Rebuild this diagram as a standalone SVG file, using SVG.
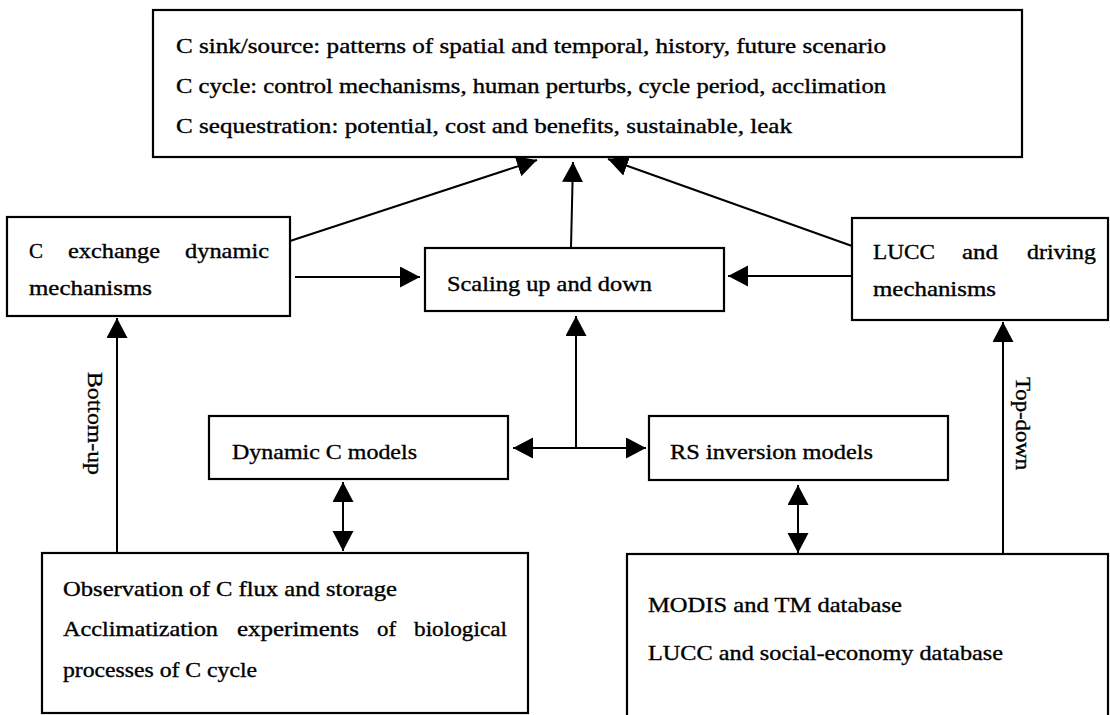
<svg xmlns="http://www.w3.org/2000/svg" width="1110" height="715" viewBox="0 0 1110 715" font-family="'Liberation Serif', 'DejaVu Serif', 'Times New Roman', serif">
<style>
.box{fill:#fff;stroke:#000;stroke-width:2.2}
.t{font-family:'Liberation Serif','DejaVu Serif','Times New Roman',serif;font-size:21px;fill:#000;stroke:#000;stroke-width:0.35}
.c{fill:none;stroke:#000;stroke-width:2}
</style>
<defs>
<marker id="ah" markerUnits="userSpaceOnUse" markerWidth="22" markerHeight="22" refX="20" refY="10.5" orient="auto-start-reverse" viewBox="0 0 22 22">
<path d="M0,0 L20,10.5 L0,21 Z" fill="#000"/>
</marker>
</defs>
<rect width="1110" height="715" fill="#fff"/>

<g id="connectors">
<line class="c" x1="290" y1="241" x2="537" y2="160" marker-end="url(#ah)"/>
<line class="c" x1="571" y1="247" x2="573" y2="162" marker-end="url(#ah)"/>
<line class="c" x1="852" y1="246" x2="608" y2="159" marker-end="url(#ah)"/>
<line class="c" x1="295" y1="277" x2="420" y2="277" marker-end="url(#ah)"/>
<line class="c" x1="852" y1="276" x2="728" y2="276" marker-end="url(#ah)"/>
<line class="c" x1="576" y1="447" x2="576" y2="316" marker-end="url(#ah)"/>
<line class="c" x1="513" y1="448" x2="646" y2="448" marker-start="url(#ah)" marker-end="url(#ah)"/>
<line class="c" x1="117" y1="553" x2="117" y2="318" marker-end="url(#ah)"/>
<line class="c" x1="1003" y1="554" x2="1003" y2="322" marker-end="url(#ah)"/>
<line class="c" x1="343" y1="482" x2="343" y2="551" marker-start="url(#ah)" marker-end="url(#ah)"/>
<line class="c" x1="798" y1="485" x2="798" y2="553" marker-start="url(#ah)" marker-end="url(#ah)"/>
<text class="t" transform="translate(88,372) rotate(90)" textLength="103" lengthAdjust="spacingAndGlyphs">Bottom-up</text>
<text class="t" transform="translate(1016,377) rotate(90)" textLength="93" lengthAdjust="spacingAndGlyphs">Top-down</text>
</g>

<g id="goals">
<rect class="box" x="153" y="10" width="869" height="147"/>
<text class="t" x="176" y="53" textLength="710" lengthAdjust="spacingAndGlyphs">C sink/source: patterns of spatial and temporal, history, future scenario</text>
<text class="t" x="176" y="93" textLength="710" lengthAdjust="spacingAndGlyphs">C cycle: control mechanisms, human perturbs, cycle period, acclimation</text>
<text class="t" x="176" y="133" textLength="616" lengthAdjust="spacingAndGlyphs">C sequestration: potential, cost and benefits, sustainable, leak</text>
</g>

<g id="exchange">
<rect class="box" x="7" y="217" width="283" height="99"/>
<text class="t" x="29" y="258">C</text>
<text class="t" x="68" y="258" textLength="92" lengthAdjust="spacingAndGlyphs">exchange</text>
<text class="t" x="185" y="258" textLength="84" lengthAdjust="spacingAndGlyphs">dynamic</text>
<text class="t" x="29" y="295" textLength="123" lengthAdjust="spacingAndGlyphs">mechanisms</text>
</g>

<g id="scaling">
<rect class="box" x="425" y="248" width="299" height="63"/>
<text class="t" x="447" y="291" textLength="205" lengthAdjust="spacingAndGlyphs">Scaling up and down</text>
</g>

<g id="lucc">
<rect class="box" x="852" y="218" width="256" height="102"/>
<text class="t" x="873" y="259" textLength="62" lengthAdjust="spacingAndGlyphs">LUCC</text>
<text class="t" x="962" y="259" textLength="36" lengthAdjust="spacingAndGlyphs">and</text>
<text class="t" x="1027" y="259" textLength="69" lengthAdjust="spacingAndGlyphs">driving</text>
<text class="t" x="873" y="296" textLength="123" lengthAdjust="spacingAndGlyphs">mechanisms</text>
</g>

<g id="dynamic">
<rect class="box" x="209" y="416" width="299" height="63"/>
<text class="t" x="232" y="459" textLength="185" lengthAdjust="spacingAndGlyphs">Dynamic C models</text>
</g>

<g id="rs">
<rect class="box" x="649" y="416" width="299" height="64"/>
<text class="t" x="670" y="459" textLength="203" lengthAdjust="spacingAndGlyphs">RS inversion models</text>
</g>

<g id="observation">
<rect class="box" x="42" y="553" width="486" height="160"/>
<text class="t" x="63" y="596" textLength="334" lengthAdjust="spacingAndGlyphs">Observation of C flux and storage</text>
<text class="t" x="63" y="636" textLength="155" lengthAdjust="spacingAndGlyphs">Acclimatization</text>
<text class="t" x="237" y="636" textLength="122" lengthAdjust="spacingAndGlyphs">experiments</text>
<text class="t" x="377" y="636" textLength="19" lengthAdjust="spacingAndGlyphs">of</text>
<text class="t" x="414" y="636" textLength="93" lengthAdjust="spacingAndGlyphs">biological</text>
<text class="t" x="63" y="677" textLength="194" lengthAdjust="spacingAndGlyphs">processes of C cycle</text>
</g>

<g id="database">
<rect class="box" x="627" y="554" width="481" height="170"/>
<text class="t" x="648" y="612" textLength="254" lengthAdjust="spacingAndGlyphs">MODIS and TM database</text>
<text class="t" x="648" y="660" textLength="355" lengthAdjust="spacingAndGlyphs">LUCC and social-economy database</text>
</g>
</svg>
